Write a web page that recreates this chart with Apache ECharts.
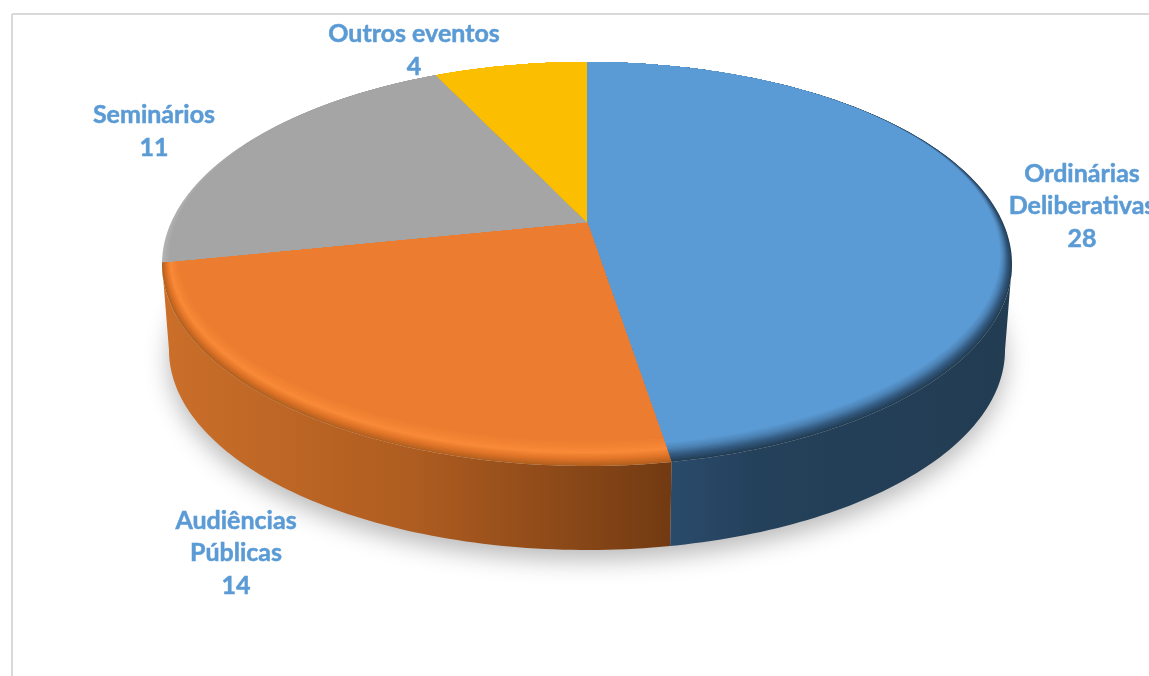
<!DOCTYPE html>
<html style="height: 100%">

<head>
    <meta charset="utf-8">
</head>

<body style="height: 100%; margin: 0; background: #fff">
    <div id="container" style="height: 100%"></div>
    <script type="text/javascript" src="https://cdn.jsdelivr.net/npm/echarts@6/dist/echarts.min.js"></script>
    <script type="text/javascript">
        // data
        var categories = ['Ordinárias\nDeliberativas', 'Audiências\nPúblicas', 'Seminários', 'Outros eventos'];
        var eventCounts = [28, 14, 11, 4];
        // the slices as drawn in the picture are not exactly proportional to the labels
        var sliceDegrees = [170.7, 87.8, 76, 25.5];

        // layout of the tilted disc, in pixels
        var disc = {cx: 587, apexY: 222, top: 62, bottom: 466, rx: 425, depthCy: 350, depthRx: 418, depthRy: 200};
        var labelCenters = [[1082, 206], [236, 553], [154, 131.5], [414, 50.5]];

        // bevel colours, outer edge first, ending on the face colour
        var rimStops = [
            ['#223D54', '#33597E', '#4C82B4', '#5B9BD5', '#5B9BD5'],
            ['#B4601F', '#E07428', '#F98A38', '#F28233', '#EB7C30'],
            ['#B4B4B4', '#ABABAB', '#A5A5A5', '#A5A5A5', '#A5A5A5'],
            ['#FBBE00', '#FBBE00', '#FBBE00', '#FBBE00', '#FBBE00']
        ];
        var wallStops = [
            [[0, '#2B4B6C'], [0.25, '#24415B'], [1, '#223C52']],
            [[0, '#CB6F2A'], [0.5, '#AE5C20'], [0.8, '#8A4818'], [1, '#723A12']],
            [[0, '#7A7A7A'], [1, '#7A7A7A']],
            [[0, '#A07A00'], [1, '#A07A00']]
        ];
        var rimLayers = 20;

        // perspective of the disc, solved from top, bottom and apex
        var persC = (2 * disc.apexY - disc.top - disc.bottom) / (disc.bottom - disc.top);
        var persA = disc.apexY - disc.top + disc.top * persC;
        var persD = disc.rx * Math.sqrt(1 - persC * persC);

        function onDisc(deg) {
            var a = deg * Math.PI / 180;
            var u = Math.sin(a), v = -Math.cos(a);
            var d = 1 + persC * v;
            return [disc.cx + persD * u / d, (persA * v + disc.apexY) / d];
        }

        // follow the ray from the apex through the disc point until it meets a smaller ellipse
        function onInnerEllipse(deg, rx, top, bottom) {
            var p = onDisc(deg);
            var cy = (top + bottom) / 2, ry = (bottom - top) / 2;
            var dx = p[0] - disc.cx, dy = p[1] - disc.apexY, oy = disc.apexY - cy;
            var qa = dx * dx / (rx * rx) + dy * dy / (ry * ry);
            var qb = 2 * oy * dy / (ry * ry);
            var qc = oy * oy / (ry * ry) - 1;
            var t = (-qb + Math.sqrt(qb * qb - 4 * qa * qc)) / (2 * qa);
            return [disc.cx + t * dx, disc.apexY + t * dy];
        }

        function onDepthEllipse(p) {
            var midY = (disc.top + disc.bottom) / 2;
            var ry = (disc.bottom - disc.top) / 2;
            return [
                disc.cx + (p[0] - disc.cx) / disc.rx * disc.depthRx,
                disc.depthCy + (p[1] - midY) / ry * disc.depthRy
            ];
        }

        function sliceStart(i) {
            var sum = 0;
            for (var k = 0; k < i; k++) sum += sliceDegrees[k];
            return sum;
        }

        function mixColor(stops, s) {
            var pos = s * (stops.length - 1);
            var k = Math.min(Math.floor(pos), stops.length - 2);
            return echarts.color.lerp(pos - k, [stops[k], stops[k + 1]]);
        }

        function renderShadow() {
            var pts = [];
            for (var a = 0; a < 360; a += 3) pts.push(onDepthEllipse(onDisc(a)));
            return {
                type: 'polygon',
                shape: {points: pts},
                style: {fill: '#cfcfcf', shadowBlur: 24, shadowColor: 'rgba(0,0,0,0.28)', shadowOffsetY: 10}
            };
        }

        function renderWall(params, api) {
            var i = api.value(0);
            // only the front half of the rim shows a wall
            var from = Math.max(sliceStart(i), 102);
            var to = Math.min(sliceStart(i) + sliceDegrees[i], 258);
            if (to <= from) return null;
            var upper = [], lower = [];
            for (var a = from; a < to; a += 1) upper.push(onDisc(a));
            upper.push(onDisc(to));
            for (var k = upper.length - 1; k >= 0; k--) lower.push(onDepthEllipse(upper[k]));
            return {
                type: 'polygon',
                shape: {points: upper.concat(lower)},
                style: {
                    fill: new echarts.graphic.LinearGradient(0, 0, 1, 0, wallStops[i].map(function (s) {
                        return {offset: s[0], color: s[1]};
                    }))
                }
            };
        }

        function renderFace(params, api) {
            var i = api.value(0);
            var start = sliceStart(i), end = start + sliceDegrees[i];
            var children = [];
            for (var n = 0; n <= rimLayers; n++) {
                var s = n / rimLayers;
                var rx = disc.rx - 16 * s, bottom = disc.bottom - 26 * s;
                var pts = [[disc.cx, disc.apexY]];
                for (var a = start; a < end; a += 1) pts.push(onInnerEllipse(a, rx, disc.top, bottom));
                pts.push(onInnerEllipse(end, rx, disc.top, bottom));
                children.push({
                    type: 'polygon',
                    shape: {points: pts},
                    style: {fill: mixColor(rimStops[i], s)}
                });
            }
            return {type: 'group', children: children};
        }

        function renderLabel(params, api) {
            var i = api.value(0);
            return {
                type: 'text',
                style: {
                    text: categories[i] + '\n' + api.value(1),
                    x: labelCenters[i][0],
                    y: labelCenters[i][1],
                    align: 'center',
                    verticalAlign: 'middle',
                    fill: '#5B9BD5',
                    stroke: '#5B9BD5',
                    lineWidth: 0.5,
                    fontFamily: 'Lato',
                    fontWeight: 'bold',
                    fontSize: 25,
                    lineHeight: 32.5
                }
            };
        }

        var rows = eventCounts.map(function (v, i) { return [i, v]; });

        var dom = document.getElementById("container");
        var myChart = echarts.init(dom);
        var option = {
            animation: false,
            backgroundColor: '#fff',
            graphic: [
                {type: 'line', shape: {x1: 12, y1: 14, x2: 1149, y2: 14}, style: {stroke: '#D9D9D9', lineWidth: 2}},
                {type: 'line', shape: {x1: 12, y1: 14, x2: 12, y2: 676}, style: {stroke: '#D9D9D9', lineWidth: 2}}
            ],
            series: [
                {type: 'custom', coordinateSystem: 'none', silent: true, z: 2, data: [[0, 0]], renderItem: renderShadow},
                {type: 'custom', coordinateSystem: 'none', silent: true, z: 3, data: rows, renderItem: renderWall},
                {type: 'custom', coordinateSystem: 'none', silent: true, z: 4, data: rows, renderItem: renderFace},
                {type: 'custom', coordinateSystem: 'none', silent: true, z: 5, data: rows, renderItem: renderLabel}
            ]
        };
        myChart.setOption(option, true);
    </script>
</body>

</html>
